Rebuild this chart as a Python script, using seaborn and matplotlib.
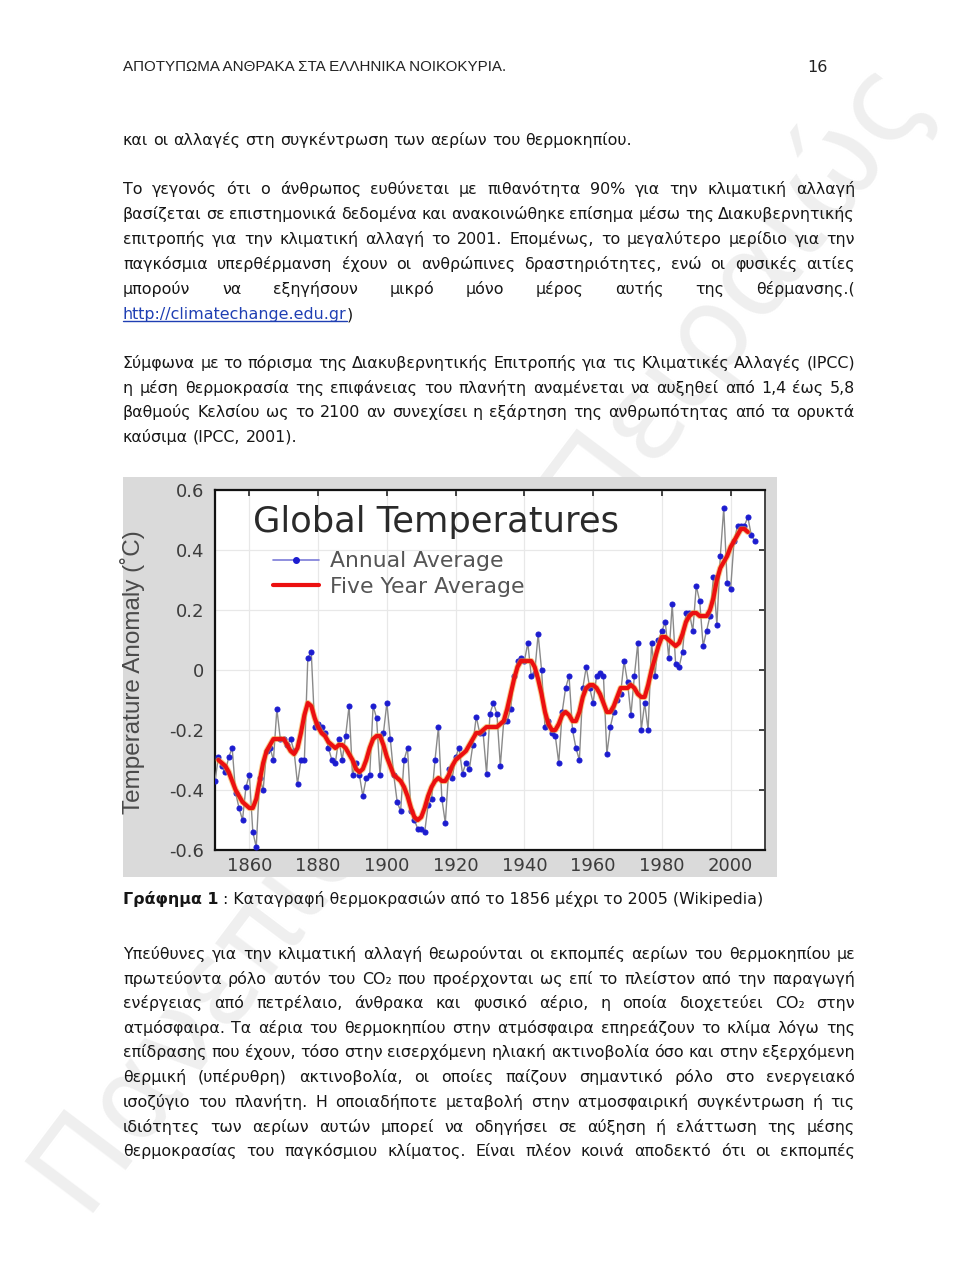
import matplotlib
matplotlib.use("Agg")
import matplotlib.pyplot as plt
import seaborn as sns
from matplotlib.patches import Rectangle
from matplotlib.lines import Line2D

# =========================
# DATA
# =========================
years = list(range(1850, 2008))

annual_1850s = [-0.37, -0.29, -0.32, -0.34, -0.29, -0.26, -0.41, -0.46, -0.50, -0.39]
annual_1860s = [-0.35, -0.54, -0.59, -0.36, -0.40, -0.27, -0.26, -0.30, -0.13, -0.23]
annual_1870s = [-0.23, -0.25, -0.23, -0.27, -0.38, -0.30, -0.30, 0.04, 0.06, -0.19]
annual_1880s = [-0.18, -0.19, -0.21, -0.26, -0.30, -0.31, -0.23, -0.30, -0.22, -0.12]
annual_1890s = [-0.35, -0.31, -0.35, -0.42, -0.36, -0.35, -0.12, -0.16, -0.35, -0.21]
annual_1900s = [-0.11, -0.23, -0.35, -0.44, -0.47, -0.30, -0.26, -0.47, -0.50, -0.53]
annual_1910s = [-0.53, -0.54, -0.45, -0.43, -0.30, -0.19, -0.43, -0.51, -0.33, -0.36]
annual_1920s = [-0.29, -0.26, -0.345, -0.31, -0.33, -0.25, -0.155, -0.21, -0.21, -0.345]
annual_1930s = [-0.145, -0.11, -0.145, -0.32, -0.17, -0.17, -0.13, -0.02, 0.03, 0.04]
annual_1940s = [0.03, 0.09, -0.02, -0.01, 0.12, 0.00, -0.19, -0.17, -0.21, -0.22]
annual_1950s = [-0.31, -0.14, -0.06, -0.02, -0.20, -0.26, -0.30, -0.06, 0.01, -0.06]
annual_1960s = [-0.11, -0.02, -0.01, -0.02, -0.28, -0.19, -0.14, -0.10, -0.08, 0.03]
annual_1970s = [-0.04, -0.15, -0.02, 0.09, -0.20, -0.11, -0.20, 0.09, -0.02, 0.10]
annual_1980s = [0.13, 0.16, 0.04, 0.22, 0.02, 0.01, 0.06, 0.19, 0.19, 0.13]
annual_1990s = [0.28, 0.23, 0.08, 0.13, 0.18, 0.31, 0.15, 0.38, 0.54, 0.29]
annual_2000s = [0.27, 0.43, 0.48, 0.48, 0.48, 0.51, 0.45, 0.43]

annual = (annual_1850s + annual_1860s + annual_1870s + annual_1880s
          + annual_1890s + annual_1900s + annual_1910s + annual_1920s
          + annual_1930s + annual_1940s + annual_1950s + annual_1960s
          + annual_1970s + annual_1980s + annual_1990s + annual_2000s)

five_years = list(range(1851, 2006))

five_1850s = [-0.30, -0.31, -0.32, -0.34, -0.37, -0.40, -0.42, -0.44, -0.45]
five_1860s = [-0.46, -0.46, -0.43, -0.37, -0.31, -0.27, -0.25, -0.23, -0.23, -0.23]
five_1870s = [-0.23, -0.25, -0.27, -0.28, -0.26, -0.21, -0.15, -0.11, -0.12, -0.16]
five_1880s = [-0.19, -0.21, -0.22, -0.24, -0.25, -0.26, -0.25, -0.25, -0.26, -0.28]
five_1890s = [-0.30, -0.33, -0.34, -0.33, -0.30, -0.26, -0.23, -0.22, -0.22, -0.25]
five_1900s = [-0.29, -0.32, -0.35, -0.36, -0.37, -0.39, -0.42, -0.46, -0.49, -0.50]
five_1910s = [-0.49, -0.46, -0.42, -0.39, -0.37, -0.36, -0.37, -0.37, -0.35, -0.32]
five_1920s = [-0.30, -0.29, -0.28, -0.27, -0.25, -0.23, -0.21, -0.21, -0.20, -0.19]
five_1930s = [-0.19, -0.19, -0.19, -0.18, -0.17, -0.13, -0.08, -0.03, 0.01, 0.03]
five_1940s = [0.03, 0.03, 0.03, 0.01, -0.03, -0.08, -0.14, -0.18, -0.20, -0.20]
five_1950s = [-0.18, -0.15, -0.14, -0.15, -0.17, -0.17, -0.14, -0.09, -0.06, -0.05]
five_1960s = [-0.05, -0.06, -0.08, -0.11, -0.14, -0.14, -0.12, -0.09, -0.06, -0.06]
five_1970s = [-0.06, -0.05, -0.06, -0.08, -0.09, -0.09, -0.05, 0.00, 0.04, 0.08]
five_1980s = [0.11, 0.11, 0.10, 0.09, 0.08, 0.09, 0.12, 0.16, 0.18, 0.19]
five_1990s = [0.19, 0.18, 0.18, 0.18, 0.20, 0.24, 0.30, 0.34, 0.36, 0.38]
five_2000s = [0.41, 0.43, 0.45, 0.47, 0.47, 0.46]

five_avg = (five_1850s + five_1860s + five_1870s + five_1880s + five_1890s
            + five_1900s + five_1910s + five_1920s + five_1930s + five_1940s
            + five_1950s + five_1960s + five_1970s + five_1980s + five_1990s
            + five_2000s)

x_ticks = [1860, 1880, 1900, 1920, 1940, 1960, 1980, 2000]
y_ticks = [-0.6, -0.4, -0.2, 0, 0.2, 0.4, 0.6]
y_tick_labels = ["-0.6", "-0.4", "-0.2", "0", "0.2", "0.4", "0.6"]

# =========================
# PAGE TEXT
# =========================
header = "ΑΠΟΤΥΠΩΜΑ ΑΝΘΡΑΚΑ ΣΤΑ ΕΛΛΗΝΙΚΑ ΝΟΙΚΟΚΥΡΙΑ."
page_no = "16"

para0 = ["και οι αλλαγές στη συγκέντρωση των αερίων του θερμοκηπίου."]
para1 = [
    "Το γεγονός ότι ο άνθρωπος ευθύνεται με πιθανότητα 90%  για την κλιματική αλλαγή",
    "βασίζεται σε επιστημονικά δεδομένα και ανακοινώθηκε επίσημα μέσω της Διακυβερνητικής",
    "επιτροπής για την κλιματική αλλαγή το 2001. Επομένως, το μεγαλύτερο μερίδιο για την",
    "παγκόσμια υπερθέρμανση έχουν οι ανθρώπινες δραστηριότητες, ενώ οι φυσικές αιτίες",
    "μπορούν να εξηγήσουν μικρό μόνο μέρος αυτής της θέρμανσης.(",
]
link = "http://climatechange.edu.gr"
para2 = [
    "Σύμφωνα με το πόρισμα της Διακυβερνητικής Επιτροπής για τις Κλιματικές Αλλαγές (IPCC)",
    "η μέση θερμοκρασία της επιφάνειας του πλανήτη αναμένεται να αυξηθεί από 1,4 έως 5,8",
    "βαθμούς Κελσίου ως το 2100 αν συνεχίσει η εξάρτηση της ανθρωπότητας από τα ορυκτά",
    "καύσιμα (IPCC, 2001).",
]
caption_bold = "Γράφημα 1"
caption_rest = " : Καταγραφή θερμοκρασιών από το 1856 μέχρι το 2005 (Wikipedia)"
para3 = [
    "Υπεύθυνες για την κλιματική αλλαγή θεωρούνται οι εκπομπές αερίων του θερμοκηπίου με",
    "πρωτεύοντα ρόλο αυτόν του CO₂ που προέρχονται ως επί το πλείστον από την παραγωγή",
    "ενέργειας από πετρέλαιο, άνθρακα και φυσικό αέριο, η οποία διοχετεύει CO₂ στην",
    "ατμόσφαιρα. Τα αέρια του θερμοκηπίου στην ατμόσφαιρα επηρεάζουν το κλίμα λόγω της",
    "επίδρασης που έχουν, τόσο στην εισερχόμενη ηλιακή ακτινοβολία όσο και στην εξερχόμενη",
    "θερμική (υπέρυθρη) ακτινοβολία, οι οποίες παίζουν σημαντικό ρόλο στο ενεργειακό",
    "ισοζύγιο του πλανήτη. Η οποιαδήποτε μεταβολή στην ατμοσφαιρική συγκέντρωση ή τις",
    "ιδιότητες των αερίων αυτών μπορεί να οδηγήσει σε αύξηση ή ελάττωση της μέσης",
    "θερμοκρασίας του παγκόσμιου κλίματος. Είναι πλέον κοινά αποδεκτό ότι οι εκπομπές",
]
watermark = "Πανεπιστήμιο Πειραιώς"

# =========================
# FIGURE
# =========================
sns.set_theme(style="white")
plt.rcParams["font.family"] = ["DejaVu Sans"]

W, H = 960, 1273
fig = plt.figure(figsize=(W / 100, H / 100), dpi=100)
fig.patch.set_facecolor("white")
renderer = fig.canvas.get_renderer()


def fx(x):
    return x / W


def fy(y):
    return 1 - y / H


def text_width(s, **kw):
    t = fig.text(0, 0, s, **kw)
    w = t.get_window_extent(renderer).width
    t.remove()
    return w


def fit_size(s, target, base=12, **kw):
    return base * target / text_width(s, fontsize=base, **kw)


BODY = dict(fontsize=11.4, color="#161616")
X0, X1 = 123, 855


def put_line(line, y, justify=True, **kw):
    words = line.split()
    widths = [text_width(w, **kw) for w in words]
    if justify and len(words) > 1:
        gap = (X1 - X0 - sum(widths)) / (len(words) - 1)
    else:
        gap = text_width("a a", **kw) - text_width("aa", **kw)
    x = X0
    for w, wd in zip(words, widths):
        fig.text(fx(x), fy(y), w, va="baseline", ha="left", **kw)
        x += wd + gap
    return x


def put_paragraph(lines, y_list, last_free=True):
    for i, (line, y) in enumerate(zip(lines, y_list)):
        free = last_free and i == len(lines) - 1
        put_line(line, y, justify=not free, **BODY)


# watermark (faint, behind everything)
fig.text(fx(482), fy(640), watermark, rotation=53, ha="center", va="center",
         fontsize=fit_size(watermark, 1400), color="#efefef", zorder=-2)

# header
hdr_kw = dict(family=["Liberation Sans", "DejaVu Sans"], color="#222222")
fig.text(fx(123), fy(71), header, va="baseline",
         fontsize=fit_size(header, 382, **hdr_kw), **hdr_kw)
fig.text(fx(828), fy(72), page_no, va="baseline", ha="right",
         fontsize=11.5, color="#222222")

# paragraphs
put_paragraph(para0, [145])
put_paragraph(para1, [194, 219, 244, 269, 294], last_free=False)
fig.text(fx(123), fy(319), link, va="baseline", color="#1f3fb3",
         fontsize=BODY["fontsize"])
lw_link = text_width(link, fontsize=BODY["fontsize"])
fig.add_artist(Line2D([fx(123), fx(123 + lw_link)], [fy(321), fy(321)],
                      transform=fig.transFigure, color="#1f3fb3", lw=1))
fig.text(fx(123 + lw_link), fy(319), ")", va="baseline", **BODY)

put_paragraph(para2, [368, 393, 417, 442])

# caption
fig.text(fx(123), fy(904), caption_bold, va="baseline",
         fontweight="bold", **BODY)
wb = text_width(caption_bold, fontweight="bold", fontsize=BODY["fontsize"])
fig.text(fx(123 + wb), fy(904), caption_rest, va="baseline", **BODY)

put_paragraph(para3, [959, 984, 1008, 1033, 1057, 1082, 1107, 1132, 1156],
              last_free=False)

# =========================
# CHART
# =========================
fig.add_artist(Rectangle((fx(123), fy(877)), 654 / W, 400 / H,
                         transform=fig.transFigure, facecolor="#dadada",
                         edgecolor="none", zorder=-1))

ax = fig.add_axes([fx(215), fy(850), 550 / W, 360 / H])
ax.set_facecolor("white")

sns.lineplot(x=years, y=annual, ax=ax, color="#8a8a8a", lw=1.0,
             marker="o", markersize=3.6, markerfacecolor="#1c1cd0",
             markeredgecolor="#1c1cd0", zorder=3)
sns.lineplot(x=five_years, y=five_avg, ax=ax, color="#f0a030", lw=4.4,
             alpha=0.55, zorder=4)
sns.lineplot(x=five_years, y=five_avg, ax=ax, color="#ec1010", lw=3.0,
             zorder=5)

ax.set_xlim(1850, 2010)
ax.set_ylim(-0.6, 0.6)
ax.set_xticks(x_ticks)
ax.set_yticks(y_ticks)
ax.set_yticklabels(y_tick_labels)
ax.grid(True, color="#e8e8e8", lw=0.9)
ax.tick_params(direction="in", length=4, width=1.2, top=True, right=True,
               labelsize=13, colors="#222222")
ax.tick_params(axis="x", pad=5)
ax.tick_params(axis="y", pad=8)
for lab in ax.get_xticklabels() + ax.get_yticklabels():
    lab.set_color("#3c3c3c")
for side in ["left", "bottom", "top"]:
    ax.spines[side].set_color("#111111")
    ax.spines[side].set_linewidth(1.6)
ax.spines["right"].set_color("#444444")
ax.spines["right"].set_linewidth(1.4)

ylab = "Temperature Anomaly (˚C)"
ylab_kw = dict(family=["Liberation Sans Narrow", "Liberation Sans", "DejaVu Sans"])
ax.set_ylabel(ylab, color="#4a4a4a",
              fontsize=fit_size(ylab, 285, **ylab_kw), **ylab_kw)
ax.yaxis.set_label_coords(-0.127, 0.494)
ax.set_xlabel("")

title = "Global Temperatures"
ax.text(0.069, 0.911, title, transform=ax.transAxes, va="center", ha="left",
        fontsize=fit_size(title, 365), color="#2a2a2a")

handles = [
    Line2D([], [], color="#7b7bd8", lw=1.2, marker="o", markersize=4,
           markerfacecolor="#1c1cd0", markeredgecolor="#1c1cd0"),
    Line2D([], [], color="#ec1010", lw=3.0),
]
leg_size = fit_size("Annual Average", 172)
ax.legend(handles, ["Annual Average", "Five Year Average"],
          loc="upper left", bbox_to_anchor=(0.105, 0.83), frameon=False,
          fontsize=leg_size, labelcolor="#555555", handlelength=2.1,
          handletextpad=0.5, labelspacing=0.25, borderpad=0, borderaxespad=0)

fig.savefig("out.png", dpi=100)
